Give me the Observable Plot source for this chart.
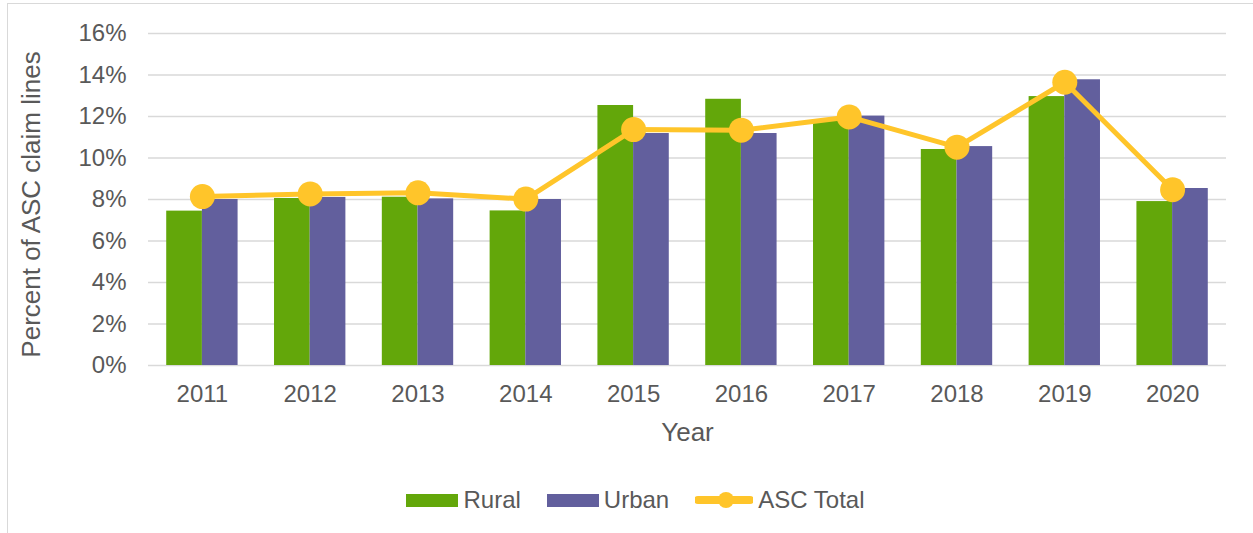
<!DOCTYPE html>
<html>
<head>
<meta charset="utf-8">
<script src="https://cdn.jsdelivr.net/npm/d3@7"></script>
<script src="https://cdn.jsdelivr.net/npm/@observablehq/plot@0.6"></script>
<style>
  html, body { margin: 0; padding: 0; background: #fff; }
  body { font-family: "Liberation Sans", Arial, sans-serif; }
  #wrap { position: relative; width: 1253px; height: 533px; overflow: hidden; }
  #frame { position: absolute; left: 7px; top: 3px; width: 1300px; height: 600px;
           border-left: 1.5px solid #D9D9D9; border-top: 1.5px solid #D9D9D9; }
  #chart { position: absolute; left: 0; top: 0; }
  #legend { position: absolute; left: 0; top: 486px; width: 1253px; display: flex; justify-content: center;
            align-items: center; font-size: 24px; color: #595959; padding-left: 18px; box-sizing: border-box; }
  .item { display: flex; align-items: center; margin: 0 13px; }
  .item svg { margin-right: 5px; }
</style>
</head>
<body>
<div id="wrap">
  <div id="frame"></div>
  <div id="chart"></div>
  <div id="legend"></div>
</div>
<script>
const years = ["2011","2012","2013","2014","2015","2016","2017","2018","2019","2020"];
const rural = [7.44, 8.05, 8.11, 7.45, 12.53, 12.83, 11.85, 10.41, 12.96, 7.90];
const urban = [8.00, 8.10, 8.03, 8.00, 11.18, 11.18, 12.02, 10.55, 13.77, 8.53];
const ascTotal = [8.14, 8.27, 8.32, 8.02, 11.37, 11.34, 11.98, 10.52, 13.65, 8.47];
const yTicks = [0, 2, 4, 6, 8, 10, 12, 14, 16];

const seriesNames = ["Rural", "Urban", "ASC Total"];
const colors = ["#63A70A", "#625F9D", "#FFC52A"];

const W = 1253, H = 460, ML = 148, MR = 27, MT = 33, MB = 95;
const PI = 0.338, PO = 0.169;
const step = (W - ML - MR) / (years.length - PI + 2 * PO);
const half = step * (1 - PI) / 2;

const table = years.map((y, i) => ({year: y, rural: rural[i], urban: urban[i], total: ascTotal[i]}));

const chart = Plot.plot({
  width: W, height: H,
  marginLeft: ML, marginRight: MR, marginTop: MT, marginBottom: MB,
  style: {fontFamily: '"Liberation Sans", Arial, sans-serif', fontSize: "24px", color: "#595959", background: "transparent"},
  x: {type: "band", domain: years, paddingInner: PI, paddingOuter: PO, round: false},
  y: {domain: [0, 16]},
  marks: [
    Plot.ruleY(yTicks, {stroke: "#D9D9D9", strokeWidth: 1.5}),
    Plot.barY(table, {x: "year", y: "rural", fill: colors[0], insetRight: half}),
    Plot.barY(table, {x: "year", y: "urban", fill: colors[1], insetLeft: half}),
    Plot.line(table, {x: "year", y: "total", stroke: colors[2], strokeWidth: 5}),
    Plot.dot(table, {x: "year", y: "total", fill: colors[2], r: 12.5}),
    Plot.axisY({ticks: yTicks, tickFormat: d => d + "%", tickSize: 0, tickPadding: 22,
                label: "Percent of ASC claim lines", labelAnchor: "center", labelArrow: false, labelOffset: 127,
                fontSize: 24}),
    Plot.axisX({tickSize: 0, tickPadding: 19, label: "Year", labelAnchor: "center", labelArrow: false, labelOffset: 75, fontSize: 24})
  ]
});
document.getElementById("chart").appendChild(chart);
// larger font for axis titles; strip any arrows
chart.querySelectorAll('g[aria-label="y-axis label"] text, g[aria-label="x-axis label"] text').forEach(t => {
  t.setAttribute("font-size", "26px");
  t.textContent = t.textContent.replace(/[\u2191\u2193\u2190\u2192]/g, "").trim();
});
chart.querySelectorAll('g[aria-label="y-axis label"] text').forEach(t => t.setAttribute("dx", "-5"));

const legend = document.getElementById("legend");
seriesNames.forEach((name, i) => {
  const item = document.createElement("div");
  item.className = "item";
  let sw;
  if (i < 2) {
    sw = `<svg width="52" height="13"><rect width="52" height="13" fill="${colors[i]}"/></svg>`;
  } else {
    sw = `<svg width="58" height="26"><line x1="3" y1="13" x2="55" y2="13" stroke="${colors[i]}" stroke-width="8" stroke-linecap="round"/><circle cx="31" cy="13" r="8" fill="${colors[i]}"/></svg>`;
  }
  item.innerHTML = sw + `<span>${name}</span>`;
  legend.appendChild(item);
});
</script>
</body>
</html>
